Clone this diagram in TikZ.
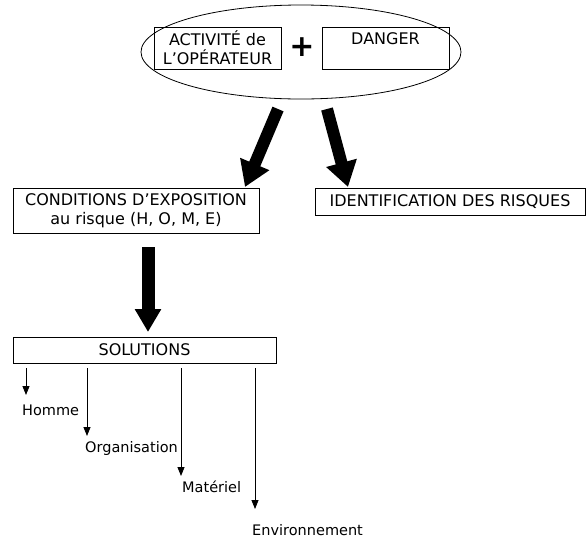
\documentclass[tikz,border=0pt]{standalone}
\usepackage{fontspec}
\setmainfont{DejaVu Sans}
\usetikzlibrary{shapes.geometric,arrows.meta}
\begin{document}
\begin{tikzpicture}[x=1pt,y=-1pt,
  box/.style={draw, line width=0.8pt, inner sep=0pt, align=center,
    font=\fontsize{16}{19}\selectfont},
  bigarrow/.style={line width=12pt, -{Triangle[width=30pt,length=25pt]}},
  vertarrow/.style={line width=13pt, -{Triangle[width=25pt,length=23pt]}},
  thinarrow/.style={line width=0.8pt, -{Triangle[width=7pt,length=9pt]}},
  lbl/.style={font=\fontsize{14.5}{15}\selectfont, inner sep=0pt}]
\useasboundingbox (0,0) rectangle (588,539);

\node[ellipse, draw, line width=0.8pt, minimum width=320pt, minimum height=94pt] (ell) at (301,52) {};
\node[box, minimum width=127pt, minimum height=42pt] (act) at (217.5,48) {ACTIVITÉ de\\L’OPÉRATEUR};
\node[box, minimum width=127pt, minimum height=42pt] (dan) at (385.5,48) {DANGER\\\mbox{}};
\node[font=\fontsize{30}{30}\selectfont\bfseries, inner sep=0pt] (plus) at (302,47) {+};

\node[box, minimum width=246pt, minimum height=45pt] (cond) at (136,210.5) {CONDITIONS D’EXPOSITION\\au risque (H, O, M, E)};
\node[box, minimum width=270pt, minimum height=27pt] (ident) at (450,201.5) {IDENTIFICATION DES RISQUES};
\node[box, minimum width=263pt, minimum height=26pt] (sol) at (144.5,350) {SOLUTIONS};

\coordinate (a1s) at (278,109);
\coordinate (a1e) at (245,187);
\coordinate (a2s) at (327,109);
\coordinate (a2e) at (348,187);
\draw[bigarrow] (a1s) -- (a1e);
\draw[bigarrow] (a2s) -- (a2e);

\coordinate (a3s) at (148,247);
\coordinate (a3e) at (148,332);
\draw[vertarrow] (a3s) -- (a3e);

\node[lbl, anchor=west] (homme) at (22,410) {Homme};
\node[lbl, anchor=west] (orga) at (85,448) {Organisation};
\node[lbl, anchor=west] (mat) at (182,487) {Matériel};
\node[lbl, anchor=west] (env) at (252,530) {Environnement};

\coordinate (h1) at (26,368);
\coordinate (h2) at (26,395);
\coordinate (o1) at (87,368);
\coordinate (o2) at (87,436);
\coordinate (m1) at (181,368);
\coordinate (m2) at (181,476);
\coordinate (e1) at (255,368);
\coordinate (e2) at (255,509);
\draw[thinarrow] (h1) -- (h2);
\draw[thinarrow] (o1) -- (o2);
\draw[thinarrow] (m1) -- (m2);
\draw[thinarrow] (e1) -- (e2);
\end{tikzpicture}
\end{document}
